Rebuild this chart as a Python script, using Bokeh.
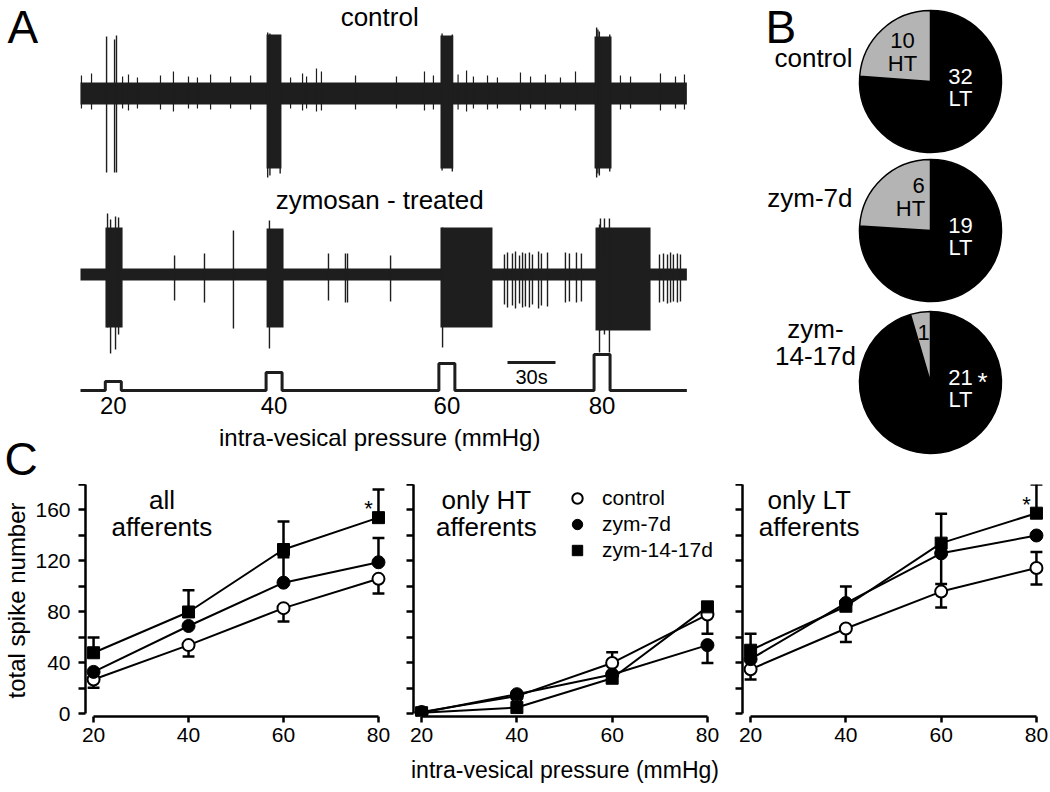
import math
from bokeh.plotting import figure
from bokeh.layouts import row, column
from bokeh.models import Range1d, FixedTicker, Legend, LegendItem
from bokeh.core.properties import value
from bokeh.embed import file_html
from bokeh.resources import INLINE

FONT = "Liberation Sans"
INK = "#1e1e1e"

# ---------------- Panel A: recordings (time in s, amplitudes in display units) ----------------
pulse_pressure = [20, 40, 60, 80]            # mmHg
pulse_start = [15.5, 116.0, 224.0, 321.0]    # s
pulse_end = [25.5, 126.0, 234.0, 331.0]      # s
rec_end = 379.0                              # s
scale_bar_s = 30

ctrl_burst_start = [116.3, 225.0, 321.3]
ctrl_burst_end = [125.6, 233.0, 331.9]
ctrl_burst_up = [59, 58, 57]
ctrl_burst_down = [75, 75, 75]
ctrl_big_t = [16.3, 21.3, 22.5, 117.0, 118.4, 124.8, 226.0, 232.4, 322.6, 323.4, 324.3, 330.8]
ctrl_big_up = [57, 54, 58, 61, 60, 57, 60, 59, 66, 64, 62, 59]
ctrl_big_down = [79, 79, 79, 84, 82, 80, 77, 78, 84, 80, 82, 78]
ctrl_small_t = [0.6, 6.9, 26.3, 30.0, 35.6, 50.0, 58.1, 67.5, 73.1, 81.3, 93.8, 106.3, 131.3,
                138.8, 141.3, 147.5, 150.6, 171.9, 197.5, 215.0, 220.6, 236.0, 241.3, 245.6,
                254.4, 260.6, 275.0, 281.3, 290.6, 300.0, 309.4, 337.5, 343.8, 362.5, 371.9, 377.5]
ctrl_small_up = [18, 20, 17, 19, 16, 18, 22, 17, 16, 19, 17, 18, 16, 20, 17, 25, 22, 18,
                 17, 22, 18, 19, 23, 17, 18, 16, 21, 17, 19, 16, 22, 18, 17, 20, 17, 19]
ctrl_small_down = [15, 16, 15, 17, 15, 16, 18, 15, 15, 16, 15, 16, 15, 17, 15, 18, 17, 16,
                   15, 17, 16, 16, 18, 15, 16, 15, 17, 15, 16, 15, 17, 16, 15, 17, 15, 16]

zym_burst_start = [15.6, 116.3, 225.0, 321.9]
zym_burst_end = [26.3, 126.9, 257.5, 356.3]
zym_burst_up = [47, 46, 47, 47]
zym_burst_down = [53, 53, 53, 56]
zym_spike_t = [16.9, 18.8, 21.9, 23.8, 118.1, 226.3, 324.4, 325.0, 327.5, 330.6,
               58.8, 77.5, 95.6, 155.0, 165.6, 166.9, 193.8,
               265.0, 266.9, 270.0, 271.9, 274.4, 276.3, 278.1, 280.6, 282.5, 286.3, 288.1, 291.9,
               303.1, 305.6, 310.0, 313.1,
               361.9, 364.4, 366.9, 368.8, 370.6, 373.1, 375.0]
zym_spike_up = [61, 55, 58, 57, 54, 47, 50, 56, 56, 56,
                19, 21, 44, 21, 21, 21, 19,
                20, 22, 21, 23, 19, 22, 21, 22, 20, 23, 21, 22,
                22, 21, 22, 21,
                20, 21, 20, 22, 20, 21, 20]
zym_spike_down = [53, 79, 75, 60, 74, 73, 78, 56, 60, 78,
                  26, 28, 54, 26, 28, 28, 27,
                  30, 33, 31, 34, 29, 33, 32, 33, 30, 34, 31, 32,
                  28, 27, 28, 27,
                  28, 27, 29, 28, 27, 28, 27]

# ---------------- Panel B: afferent classes ----------------
pie_groups = ["control", "zym-7d", "zym-14-17d"]
ht_counts = [10, 6, 1]
lt_counts = [32, 19, 21]
pie_sig = ["", "", "*"]

# ---------------- Panel C: total spike number ----------------
pressure = [20, 40, 60, 80]
series_names = ["control", "zym-7d", "zym-14-17d"]

all_mean = {"control": [27, 54, 83, 106], "zym-7d": [33, 69, 103, 119], "zym-14-17d": [48, 80, 129, 154]}
all_lo = {"control": [6.5, 9, 10.5, 11.5], "zym-7d": [0, 0, 0, 0], "zym-14-17d": [0, 0, 0, 0]}
all_hi = {"control": [0, 0, 0, 0], "zym-7d": [0, 0, 20, 19], "zym-14-17d": [12, 17, 22, 22]}
all_sig = [0, 0, 0, 1]

ht_mean = {"control": [1.5, 14, 40, 78], "zym-7d": [1, 15.5, 31, 54], "zym-14-17d": [1, 5, 28, 84]}
ht_lo = {"control": [0, 0, 0, 15], "zym-7d": [0, 0, 0, 14], "zym-14-17d": [0, 0, 3, 0]}
ht_hi = {"control": [0, 0, 8.5, 0], "zym-7d": [0, 0, 0, 0], "zym-14-17d": [0, 0, 0, 0]}
ht_sig = [0, 0, 0, 0]

lt_mean = {"control": [35, 67, 96, 114.5], "zym-7d": [43, 87, 126, 140], "zym-14-17d": [50, 84.5, 134, 157.5]}
lt_lo = {"control": [8, 10.5, 12.5, 13], "zym-7d": [0, 0, 24, 0], "zym-14-17d": [0, 0, 0, 0]}
lt_hi = {"control": [0, 0, 0, 12.5], "zym-7d": [0, 0, 0, 0], "zym-14-17d": [13, 15.5, 23, 22.5]}
lt_sig = [0, 0, 0, 1]

y_ticks = list(range(0, 181, 20))
y_labeled = [0, 40, 80, 120, 160]


def txt(p, x, y, s, size, align="center", baseline="middle", color="black"):
    p.text(x=[x], y=[y], text=[s], text_font=value(FONT), text_font_size=size,
           text_align=align, text_baseline=baseline, text_color=color)


TOP_H = 484


def Y(ref_px):
    """vertical placement in the top panels, measured from the page top"""
    return TOP_H - ref_px


# ================= Panel A figure =================
CTRL_Y, ZYM_Y, PRESS_Y, PRESS_K = Y(93), Y(274), Y(390), 0.45
pa = figure(width=763, height=TOP_H, x_range=Range1d(-50, 426.9), y_range=Range1d(0, TOP_H),
            x_axis_location=None, y_axis_location=None, min_border=0,
            output_backend="svg", toolbar_location=None)
pa.grid.visible = False
pa.outline_line_color = None

# control trace
pa.quad(left=[0], right=[rec_end], bottom=[CTRL_Y - 11], top=[CTRL_Y + 11], color=INK, line_width=0)
pa.segment(x0=ctrl_small_t, x1=ctrl_small_t, y0=[CTRL_Y - d for d in ctrl_small_down],
           y1=[CTRL_Y + u for u in ctrl_small_up], color=INK, line_width=1.2)
pa.quad(left=ctrl_burst_start, right=ctrl_burst_end, bottom=[CTRL_Y - d for d in ctrl_burst_down],
        top=[CTRL_Y + u for u in ctrl_burst_up], color=INK, line_width=0)
pa.segment(x0=ctrl_big_t, x1=ctrl_big_t, y0=[CTRL_Y - d for d in ctrl_big_down],
           y1=[CTRL_Y + u for u in ctrl_big_up], color=INK, line_width=1.4)

# zymosan trace
pa.quad(left=[0], right=[rec_end], bottom=[ZYM_Y - 6], top=[ZYM_Y + 6], color=INK, line_width=0)
pa.quad(left=zym_burst_start, right=zym_burst_end, bottom=[ZYM_Y - d for d in zym_burst_down],
        top=[ZYM_Y + u for u in zym_burst_up], color=INK, line_width=0)
pa.segment(x0=zym_spike_t, x1=zym_spike_t, y0=[ZYM_Y - d for d in zym_spike_down],
           y1=[ZYM_Y + u for u in zym_spike_up], color=INK, line_width=1.4)

# pressure trace
px, py = [0.0], [PRESS_Y]
for s, e, pr in zip(pulse_start, pulse_end, pulse_pressure):
    px += [s, s, e, e]
    py += [PRESS_Y, PRESS_Y + pr * PRESS_K, PRESS_Y + pr * PRESS_K, PRESS_Y]
px.append(rec_end)
py.append(PRESS_Y)
pa.line(px, py, color=INK, line_width=3)
pa.text(x=[(s + e) / 2 for s, e in zip(pulse_start, pulse_end)], y=[Y(405)] * 4,
        text=[str(v) for v in pulse_pressure], text_font=value(FONT), text_font_size="24px",
        text_align="center", text_baseline="middle")

sb0 = 266.9
pa.segment(x0=[sb0], x1=[sb0 + scale_bar_s], y0=[Y(362)], y1=[Y(362)], color=INK, line_width=3)
txt(pa, sb0 + scale_bar_s / 2, Y(376), f"{scale_bar_s}s", "20px")

txt(pa, 187, Y(16), "control", "26px")
txt(pa, 187, Y(199), "zymosan - treated", "26px")
txt(pa, 187, Y(437), "intra-vesical pressure (mmHg)", "24px")
txt(pa, -45.6, Y(0), "A", "46px", align="left", baseline="top")
txt(pa, -47.5, Y(484), "C", "46px", align="left", baseline="bottom")

# ================= Panel B figure =================
pb = figure(width=287, height=TOP_H, x_range=Range1d(0, 287), y_range=Range1d(0, TOP_H),
            x_axis_location=None, y_axis_location=None, min_border=0,
            output_backend="svg", toolbar_location=None)
pb.grid.visible = False
pb.outline_line_color = None
PIE_X, PIE_YS, R = 167, [Y(81), Y(230), Y(382)], 71
ang_ht = [2 * math.pi * h / (h + l) for h, l in zip(ht_counts, lt_counts)]
pb.wedge(x=[PIE_X] * 3, y=PIE_YS, radius=R, start_angle=[math.pi / 2 + a for a in ang_ht],
         end_angle=[math.pi / 2 + 2 * math.pi] * 3, fill_color="black", line_color="black", line_width=1.5)
pb.wedge(x=[PIE_X] * 3, y=PIE_YS, radius=R, start_angle=[math.pi / 2] * 3,
         end_angle=[math.pi / 2 + a for a in ang_ht], fill_color="#b4b4b4", line_color="black", line_width=1.5)

ht_offsets = [(-28, 41, -28, 18), (-12, 45, -20, 22), (-7, 50, None, None)]
for cy, h, l, sig, off in zip(PIE_YS, ht_counts, lt_counts, pie_sig, ht_offsets):
    txt(pb, PIE_X + off[0], cy + off[1], str(h), "22px")
    if off[2] is not None:
        txt(pb, PIE_X + off[2], cy + off[3], "HT", "22px")
    txt(pb, PIE_X + 30, cy + 5, str(l), "22px", color="white")
    txt(pb, PIE_X + 30, cy - 17, "LT", "22px", color="white")
    if sig:
        txt(pb, PIE_X + 52, cy + 1, sig, "26px", color="white")

txt(pb, 89, Y(57), pie_groups[0], "26px", align="right")
txt(pb, 89, Y(197), pie_groups[1], "26px", align="right")
g3a, g3b = pie_groups[2].split("-", 1)
txt(pb, 52, Y(328), g3a + "-", "26px")
txt(pb, 52, Y(355), g3b, "26px")
txt(pb, 2, Y(0), "B", "46px", align="left", baseline="top")

# ================= Panel C figures =================
styles = {
    "control": dict(marker="circle", size=12, fill_color="white", line_color="black", line_width=2),
    "zym-7d": dict(marker="circle", size=13, fill_color="black", line_color="black", line_width=1),
    "zym-14-17d": dict(marker="square", size=12, fill_color="black", line_color="black", line_width=1),
}
BOT_H = 792 - TOP_H
FRAME_H = 232


def c_panel(width, bl, br, means, los, his, sig, title, tx, ylabels, xlabel=None, legend=False):
    p = figure(width=width, height=BOT_H, x_range=Range1d(18.3, 81.9), y_range=Range1d(-2, 180),
               min_border_left=bl, min_border_right=br, min_border_top=0,
               min_border_bottom=BOT_H - FRAME_H,
               output_backend="svg", toolbar_location=None)
    p.grid.visible = False
    p.outline_line_color = None
    xa, ya = p.xaxis[0], p.yaxis[0]
    xa.ticker = FixedTicker(ticks=pressure)
    xa.bounds = (20, 80)
    ya.ticker = FixedTicker(ticks=y_ticks)
    ya.bounds = (0, 180)
    if ylabels:
        ya.major_label_overrides = {t: ("" if t not in y_labeled else str(t)) for t in y_ticks}
        ya.axis_label = "total spike number"
    else:
        ya.major_label_overrides = {t: "" for t in y_ticks}
    for ax in (xa, ya):
        ax.axis_line_width = 2.5
        ax.major_tick_line_width = 2.5
        ax.minor_tick_line_color = None
        ax.major_tick_in = 0
        ax.major_label_text_font = FONT
        ax.major_label_text_font_size = "21px"
        ax.major_label_text_color = "black"
        ax.axis_label_text_font = FONT
        ax.axis_label_text_font_style = "normal"
        ax.axis_label_text_color = "black"
    xa.major_tick_out = 6
    xa.major_label_standoff = 5
    ya.major_tick_out = 7
    ya.major_label_standoff = 8
    ya.axis_label_standoff = 2
    ya.axis_label_text_font_size = "24px"
    if xlabel:
        xa.axis_label = xlabel
        xa.axis_label_standoff = 12
        xa.axis_label_text_font_size = "23px"

    for n in series_names:
        p.line(pressure, means[n], color="black", line_width=2)
    for n in series_names:
        bx, b0, b1, cx0, cx1, cy = [], [], [], [], [], []
        for x, y, lo, hi in zip(pressure, means[n], los[n], his[n]):
            if lo > 0 or hi > 0:
                bx.append(x); b0.append(y - lo); b1.append(y + hi)
            for v in ([y + hi] if hi > 0 else []) + ([y - lo] if lo > 0 else []):
                cx0.append(x - 1.25); cx1.append(x + 1.25); cy.append(v)
        if bx:
            p.segment(x0=bx, x1=bx, y0=b0, y1=b1, color="black", line_width=2.5)
            p.segment(x0=cx0, x1=cx1, y0=cy, y1=cy, color="black", line_width=2.5)
    rends = {}
    for n in series_names:
        rends[n] = p.scatter(pressure, means[n], **styles[n])
    z = means["zym-14-17d"]
    for x, y, s in zip(pressure, z, sig):
        if s:
            txt(p, x - 2.1, y + 7, "*", "22px")
    txt(p, tx, 167.5, title[0], "26px")
    txt(p, tx, 147, title[1], "26px")
    if legend:
        lg = Legend(items=[LegendItem(label=n, renderers=[rends[n]]) for n in series_names],
                    location=(151, 153), orientation="vertical", glyph_width=26, glyph_height=26,
                    spacing=0, padding=0, margin=0, label_standoff=12,
                    label_text_font=FONT, label_text_font_size="21px", label_text_color="black",
                    border_line_color=None, background_fill_alpha=0)
        p.add_layout(lg, "center")
    return p


p1 = c_panel(393, 84, 6, all_mean, all_lo, all_hi, all_sig, ("all", "afferents"), 34.4, True)
p2 = c_panel(329, 20, 6, ht_mean, ht_lo, ht_hi, ht_sig, ("only HT", "afferents"), 33.6, False,
             xlabel="intra-vesical pressure (mmHg)", legend=True)
p3 = c_panel(328, 20, 5, lt_mean, lt_lo, lt_hi, lt_sig, ("only LT", "afferents"), 32.3, False)

layout = column(row(pa, pb), row(p1, p2, p3))
open("out.html", "w").write(file_html(layout, INLINE))
